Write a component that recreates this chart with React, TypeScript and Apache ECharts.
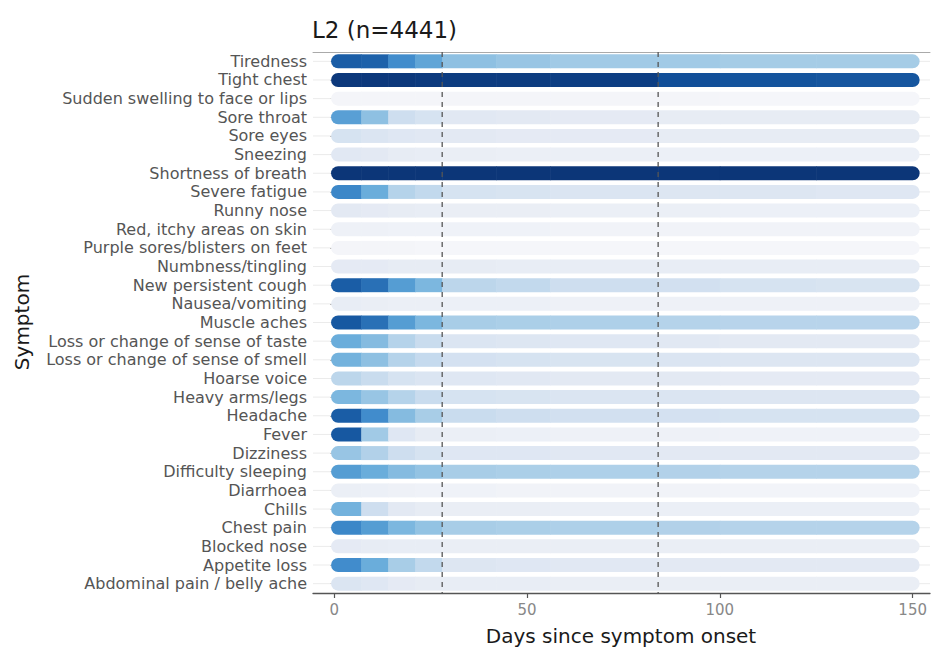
import React, { useEffect, useRef } from "react";
import * as echarts from "echarts";

const TITLE = "L2 (n=4441)";
const X_NAME = "Days since symptom onset";
const Y_NAME = "Symptom";

// Symptoms, listed top to bottom
const SYMPTOMS = [
  "Tiredness",
  "Tight chest",
  "Sudden swelling to face or lips",
  "Sore throat",
  "Sore eyes",
  "Sneezing",
  "Shortness of breath",
  "Severe fatigue",
  "Runny nose",
  "Red, itchy areas on skin",
  "Purple sores/blisters on feet",
  "Numbness/tingling",
  "New persistent cough",
  "Nausea/vomiting",
  "Muscle aches",
  "Loss or change of sense of taste",
  "Loss or change of sense of smell",
  "Hoarse voice",
  "Heavy arms/legs",
  "Headache",
  "Fever",
  "Dizziness",
  "Difficulty sleeping",
  "Diarrhoea",
  "Chills",
  "Chest pain",
  "Blocked nose",
  "Appetite loss",
  "Abdominal pain / belly ache",
];

// Day bins (edges) along the x axis
const BIN_EDGES = [1, 7, 14, 21, 28, 42, 56, 84, 100, 125, 150];

// Relative intensity (0..1) per symptom per day bin, same order as SYMPTOMS
const INTENSITY: number[][] = [
  [0.8, 0.78, 0.62, 0.53, 0.42, 0.4, 0.38, 0.38, 0.37, 0.37], // Tiredness
  [0.97, 0.97, 0.97, 0.96, 0.95, 0.95, 0.94, 0.86, 0.84, 0.83], // Tight chest
  [0.03, 0.03, 0.03, 0.03, 0.03, 0.03, 0.03, 0.03, 0.02, 0.02], // Sudden swelling
  [0.55, 0.42, 0.24, 0.2, 0.15, 0.14, 0.13, 0.12, 0.12, 0.12], // Sore throat
  [0.2, 0.18, 0.16, 0.15, 0.14, 0.13, 0.13, 0.12, 0.12, 0.12], // Sore eyes
  [0.15, 0.14, 0.12, 0.11, 0.1, 0.09, 0.09, 0.08, 0.08, 0.08], // Sneezing
  [0.98, 0.98, 0.98, 0.98, 0.98, 0.98, 0.98, 0.98, 0.98, 0.98], // Shortness of breath
  [0.64, 0.5, 0.32, 0.28, 0.2, 0.19, 0.18, 0.17, 0.17, 0.16], // Severe fatigue
  [0.14, 0.13, 0.12, 0.11, 0.1, 0.1, 0.09, 0.09, 0.08, 0.08], // Runny nose
  [0.07, 0.07, 0.06, 0.06, 0.06, 0.06, 0.05, 0.05, 0.05, 0.05], // Red, itchy
  [0.03, 0.03, 0.03, 0.02, 0.02, 0.02, 0.02, 0.02, 0.02, 0.02], // Purple sores
  [0.13, 0.13, 0.12, 0.12, 0.12, 0.11, 0.11, 0.11, 0.11, 0.11], // Numbness
  [0.8, 0.72, 0.56, 0.46, 0.3, 0.28, 0.24, 0.22, 0.2, 0.19], // New persistent cough
  [0.11, 0.1, 0.09, 0.09, 0.08, 0.08, 0.07, 0.07, 0.07, 0.07], // Nausea
  [0.82, 0.72, 0.56, 0.46, 0.36, 0.35, 0.34, 0.32, 0.31, 0.31], // Muscle aches
  [0.5, 0.44, 0.32, 0.26, 0.18, 0.17, 0.16, 0.15, 0.14, 0.14], // Taste
  [0.48, 0.42, 0.32, 0.27, 0.21, 0.2, 0.19, 0.18, 0.17, 0.17], // Smell
  [0.3, 0.26, 0.2, 0.18, 0.16, 0.15, 0.14, 0.14, 0.13, 0.13], // Hoarse voice
  [0.46, 0.4, 0.32, 0.26, 0.2, 0.19, 0.18, 0.18, 0.17, 0.17], // Heavy arms/legs
  [0.8, 0.62, 0.44, 0.36, 0.26, 0.24, 0.22, 0.21, 0.2, 0.2], // Headache
  [0.82, 0.38, 0.16, 0.12, 0.09, 0.08, 0.07, 0.07, 0.06, 0.06], // Fever
  [0.4, 0.33, 0.24, 0.2, 0.16, 0.16, 0.15, 0.14, 0.14, 0.14], // Dizziness
  [0.56, 0.5, 0.44, 0.41, 0.36, 0.35, 0.34, 0.33, 0.32, 0.32], // Difficulty sleeping
  [0.09, 0.08, 0.07, 0.06, 0.06, 0.05, 0.05, 0.05, 0.04, 0.04], // Diarrhoea
  [0.48, 0.24, 0.14, 0.12, 0.1, 0.1, 0.09, 0.09, 0.09, 0.09], // Chills
  [0.64, 0.56, 0.46, 0.41, 0.36, 0.35, 0.34, 0.33, 0.32, 0.32], // Chest pain
  [0.13, 0.12, 0.11, 0.11, 0.1, 0.1, 0.1, 0.1, 0.1, 0.1], // Blocked nose
  [0.62, 0.5, 0.36, 0.28, 0.17, 0.16, 0.15, 0.14, 0.14, 0.14], // Appetite loss
  [0.18, 0.16, 0.13, 0.12, 0.11, 0.11, 0.1, 0.1, 0.1, 0.1], // Abdominal pain
];

const X_TICKS = [0, 50, 100, 150];
const REF_DAYS = [28, 84];

const PALETTE = [
  "#f8f8fb",
  "#e6ebf4",
  "#ccddef",
  "#a3cbe6",
  "#6aaddb",
  "#3f8bcb",
  "#2268b0",
  "#0f4c96",
  "#0b3272",
];

const FONT = "DejaVu Sans";

export default function App() {
  const ref = useRef<HTMLDivElement>(null);

  useEffect(() => {
    if (!ref.current) return;
    const chart = echarts.init(ref.current, null, { renderer: "svg" });

    const segData: number[][] = [];
    SYMPTOMS.forEach((_, i) => {
      INTENSITY[i].forEach((v, b) => {
        segData.push([BIN_EDGES[b], BIN_EDGES[b + 1], i, v]);
      });
    });
    const firstDay = BIN_EDGES[0];
    const lastDay = BIN_EDGES[BIN_EDGES.length - 1];
    const BAR_H = 14;
    const CAP = 7;

    chart.setOption({
      animation: false,
      textStyle: { fontFamily: FONT },
      title: {
        text: TITLE,
        left: 307,
        top: 13,
        textStyle: { fontSize: 23, fontWeight: "normal", color: "#1a1a1a", fontFamily: FONT },
      },
      grid: { left: 313, right: 2, top: 52, bottom: 58 },
      xAxis: [
        {
          type: "value",
          min: -5.5,
          max: 154.5,
          position: "bottom",
          axisLine: { show: true, lineStyle: { color: "#555", width: 1.3 } },
          axisTick: { show: true, customValues: X_TICKS, length: 5, lineStyle: { color: "#555", width: 1.2 } },
          axisLabel: { customValues: X_TICKS, fontSize: 15, color: "#888", margin: 9, fontFamily: FONT },
          splitLine: { show: false },
        },
        {
          type: "value",
          min: -5.5,
          max: 154.5,
          position: "top",
          axisLine: { show: true, lineStyle: { color: "#aaa", width: 1 } },
          axisTick: { show: false },
          axisLabel: { show: false },
          splitLine: { show: false },
        },
      ],
      yAxis: {
        type: "category",
        data: SYMPTOMS,
        inverse: true,
        axisLine: { show: false },
        axisTick: { show: true, alignWithLabel: true, interval: 0, length: 4, lineStyle: { color: "#888" } },
        axisLabel: { interval: 0, fontSize: 16, color: "#555", margin: 6, fontFamily: FONT },
        splitLine: { show: false },
      },
      visualMap: {
        type: "continuous",
        show: false,
        min: 0,
        max: 1,
        dimension: 3,
        seriesIndex: 1,
        inRange: { color: PALETTE },
      },
      graphic: [
        {
          type: "text",
          x: 621,
          y: 636,
          style: {
            text: X_NAME,
            fontSize: 20,
            fontFamily: FONT,
            fill: "#1a1a1a",
            align: "center",
            verticalAlign: "middle",
          },
        },
        {
          type: "text",
          x: 22,
          y: 322,
          rotation: Math.PI / 2,
          style: {
            text: Y_NAME,
            fontSize: 20,
            fontFamily: FONT,
            fill: "#1a1a1a",
            align: "center",
            verticalAlign: "middle",
          },
        },
      ],
      series: [
        {
          type: "custom",
          silent: true,
          z: 1,
          data: SYMPTOMS.map((_, i) => [0, i]),
          encode: { x: 0, y: 1 },
          renderItem: (params: any, api: any) => {
            const p = api.coord([0, api.value(1)]);
            const cs = params.coordSys;
            return {
              type: "line",
              shape: { x1: cs.x, y1: p[1], x2: cs.x + cs.width, y2: p[1] },
              style: { stroke: "#ebebeb", lineWidth: 1 },
            };
          },
        },
        {
          type: "custom",
          z: 2,
          data: segData,
          encode: { x: [0, 1], y: 2 },
          renderItem: (params: any, api: any) => {
            const s = api.value(0);
            const e = api.value(1);
            const row = api.value(2);
            const p0 = api.coord([s, row]);
            const p1 = api.coord([e, row]);
            let x0 = p0[0];
            let x1 = p1[0];
            const r = [0, 0, 0, 0];
            if (s === firstDay) {
              x0 -= CAP;
              r[0] = CAP;
              r[3] = CAP;
            }
            if (e === lastDay) {
              x1 += CAP;
              r[1] = CAP;
              r[2] = CAP;
            } else {
              x1 += 0.6;
            }
            return {
              type: "rect",
              shape: { x: x0, y: p0[1] - BAR_H / 2, width: x1 - x0, height: BAR_H, r },
              style: { fill: api.visual("color") },
            };
          },
        },
        {
          type: "custom",
          silent: true,
          z: 3,
          data: REF_DAYS.map((d) => [d, 0]),
          encode: { x: 0, y: 1 },
          renderItem: (params: any, api: any) => {
            const p = api.coord([api.value(0), 0]);
            const cs = params.coordSys;
            return {
              type: "line",
              shape: { x1: p[0], y1: cs.y, x2: p[0], y2: cs.y + cs.height },
              style: { stroke: "#555", lineWidth: 1.3, lineDash: [5, 5] },
            };
          },
        },
      ],
    });

    return () => {
      chart.dispose();
    };
  }, []);

  return (
    <div
      ref={ref}
      style={{ position: "fixed", left: 0, top: 0, width: 932, height: 651, background: "#fff" }}
    />
  );
}
